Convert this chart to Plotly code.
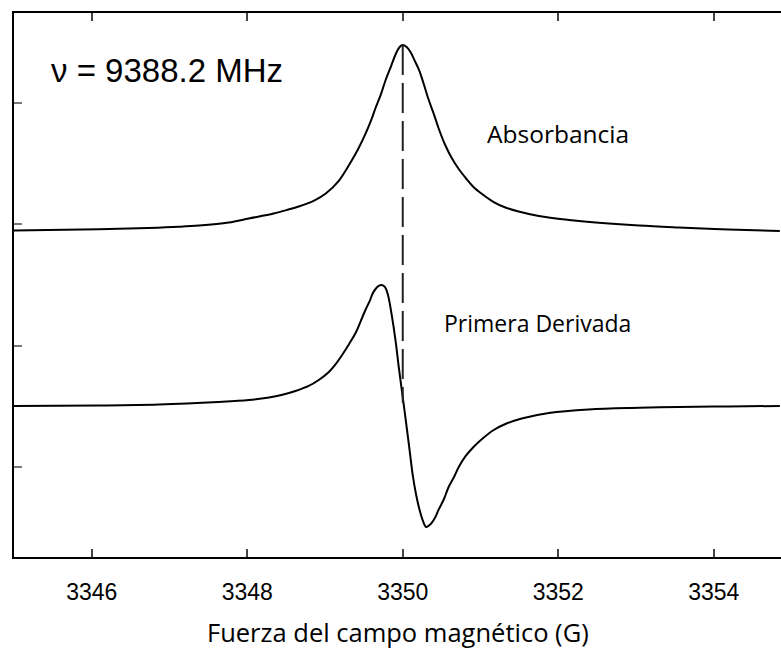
import plotly.graph_objects as go

# Absorbance curve
abs_x = [3345.00, 3346.09, 3346.73, 3347.12, 3347.38, 3347.76, 3348.02, 3348.34, 3348.53, 3348.66,
         3348.86, 3349.01, 3349.18, 3349.34, 3349.43, 3349.52, 3349.59, 3349.65, 3349.72, 3349.78,
         3349.85, 3349.91, 3349.96, 3350.00, 3350.05, 3350.10, 3350.15, 3350.21, 3350.27, 3350.33,
         3350.40, 3350.46, 3350.54, 3350.63, 3350.72, 3350.81, 3350.91, 3351.02, 3351.17, 3351.32,
         3351.49, 3351.75, 3352.14, 3352.48, 3353.04, 3353.55, 3354.19, 3354.85]
abs_y = [1.949, 1.959, 1.970, 1.980, 1.990, 2.015, 2.048, 2.089, 2.122, 2.147,
         2.196, 2.254, 2.361, 2.522, 2.625, 2.745, 2.852, 2.959, 3.074, 3.190,
         3.305, 3.404, 3.462, 3.478, 3.462, 3.420, 3.354, 3.272, 3.157, 3.033,
         2.909, 2.794, 2.662, 2.547, 2.456, 2.382, 2.308, 2.250, 2.184, 2.139,
         2.106, 2.069, 2.036, 2.015, 1.990, 1.974, 1.957, 1.945]

# First-derivative curve
der_x = [3345.00, 3346.09, 3346.86, 3347.63, 3348.02, 3348.28, 3348.44, 3348.62, 3348.79, 3348.92,
         3349.05, 3349.14, 3349.22, 3349.31, 3349.40, 3349.46, 3349.52, 3349.58, 3349.61, 3349.65,
         3349.69, 3349.73, 3349.77, 3349.81, 3349.86, 3349.91, 3349.95, 3350.01, 3350.08, 3350.13,
         3350.17, 3350.21, 3350.26, 3350.30, 3350.33, 3350.37, 3350.42, 3350.46, 3350.53, 3350.59,
         3350.66, 3350.72, 3350.81, 3350.91, 3351.02, 3351.17, 3351.32, 3351.53, 3351.88, 3352.39,
         3353.04, 3353.55, 3354.19, 3354.85]
der_y = [0.503, 0.507, 0.515, 0.536, 0.552, 0.573, 0.593, 0.626, 0.668, 0.717,
         0.783, 0.849, 0.923, 1.014, 1.113, 1.203, 1.294, 1.376, 1.426, 1.467,
         1.492, 1.500, 1.484, 1.418, 1.245, 1.030, 0.816, 0.527, 0.181, -0.074,
         -0.223, -0.338, -0.445, -0.495, -0.486, -0.462, -0.412, -0.354, -0.264, -0.165,
         -0.082, 0.000, 0.091, 0.165, 0.231, 0.305, 0.354, 0.400, 0.445, 0.474,
         0.488, 0.495, 0.499, 0.503]

# Resonance marker
res_x = [3350.0, 3350.0]
res_y = [3.478, 0.53]

x_ticks = [3346, 3348, 3350, 3352, 3354]
x_tick_labels = ["3346", "3348", "3350", "3352", "3354"]
y_ticks = [0, 1, 2, 3]

line_style = dict(color="black", width=2, shape="spline", smoothing=1.0)
fig = go.Figure()
fig.add_trace(go.Scatter(x=abs_x, y=abs_y, mode="lines", line=line_style, showlegend=False))
fig.add_trace(go.Scatter(x=der_x, y=der_y, mode="lines", line=line_style, showlegend=False))
fig.add_trace(go.Scatter(x=res_x, y=res_y, mode="lines",
                         line=dict(color="#222222", width=2, dash="30px,8px"), showlegend=False))

fig.add_annotation(x=0.046, y=0.895, xref="paper", yref="paper", xanchor="left", yanchor="middle",
                   text="ν = 9388.2 MHz", showarrow=False,
                   font=dict(family="Liberation Sans, Arial", size=33, color="black"))
fig.add_annotation(x=3351.06, y=2.75, xanchor="left", yanchor="middle", text="Absorbancia",
                   showarrow=False, font=dict(family="Open Sans", size=24.5, color="black"))
fig.add_annotation(x=3350.50, y=1.19, xanchor="left", yanchor="middle", text="Primera Derivada",
                   showarrow=False, font=dict(family="Open Sans", size=23, color="black"))
fig.add_annotation(x=0.5, y=-0.138, xref="paper", yref="paper", xanchor="center", yanchor="middle",
                   text="Fuerza del campo magnético (G)", showarrow=False,
                   font=dict(family="Open Sans", size=25.5, color="black"))

fig.update_xaxes(range=[3345, 3354.865], tickvals=x_ticks, ticktext=x_tick_labels,
                 ticks="inside", ticklen=8, tickwidth=1.5, tickcolor="#444",
                 showline=True, linecolor="black", linewidth=2, mirror="ticks",
                 showgrid=False, zeroline=False,
                 tickfont=dict(family="Liberation Sans, Arial", size=23, color="black"),
                 ticklabelstandoff=13)
fig.update_yaxes(range=[-0.742, 3.742], tickvals=y_ticks, showticklabels=False,
                 ticks="inside", ticklen=8, tickwidth=1.5, tickcolor="#777",
                 showline=True, linecolor="black", linewidth=2, mirror=False,
                 showgrid=False, zeroline=False)

fig.update_layout(width=781, height=653, margin=dict(l=14, r=0, t=13, b=96),
                  paper_bgcolor="white", plot_bgcolor="white")

fig.write_html("out.html")
